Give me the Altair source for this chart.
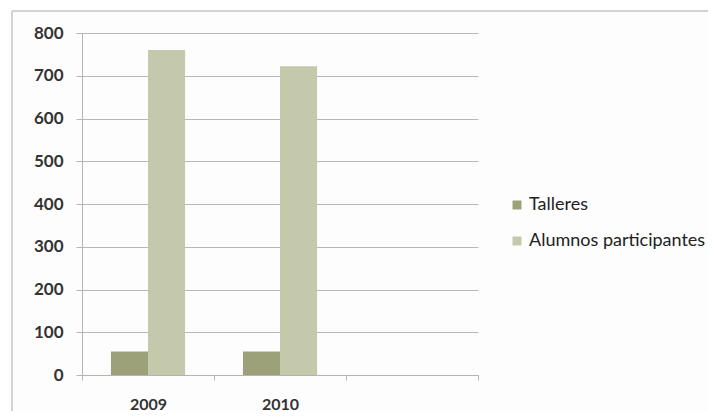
import altair as alt
import pandas as pd

years = ["2009", "2010", " "]
series = ["Talleres", "Alumnos participantes"]
talleres = [55, 55]
alumnos = [760, 722]
colors = ["#9ca17a", "#c3c9aa"]

rows = []
for i, y in enumerate(years[:2]):
    rows.append({"year": y, "serie": series[0], "value": talleres[i]})
    rows.append({"year": y, "serie": series[1], "value": alumnos[i]})
df = pd.DataFrame(rows)

FONT = "Lato"
W, H = 396, 342

bars = alt.Chart(df).mark_bar().encode(
    x=alt.X("year:N", scale=alt.Scale(domain=years, paddingInner=0, paddingOuter=0),
            axis=alt.Axis(title=None, labelAngle=0, tickBand="extent", tickSize=5,
                          labelPadding=16, domainColor="#b4b4b4", tickColor="#b4b4b4",
                          labelFont=FONT, labelFontSize=16, labelFontWeight="bold",
                          labelColor="#333333", grid=False)),
    xOffset=alt.XOffset("serie:N", sort=series,
                        scale=alt.Scale(domain=series, paddingInner=0, paddingOuter=0.78)),
    y=alt.Y("value:Q", scale=alt.Scale(domain=[0, 800], nice=False),
            axis=alt.Axis(title=None, values=list(range(0, 801, 100)), tickSize=6,
                          labelPadding=13, domainColor="#b4b4b4", tickColor="#b4b4b4",
                          gridColor="#b8b8b8", gridWidth=1.2,
                          labelFont=FONT, labelFontSize=17, labelFontWeight="bold",
                          labelColor="#333333")),
    color=alt.Color("serie:N", sort=series,
                    scale=alt.Scale(domain=series, range=colors),
                    legend=alt.Legend(title=None, orient="none", legendX=426, legendY=163,
                                      symbolType="square", symbolSize=80,
                                      symbolStrokeWidth=0, rowPadding=18,
                                      labelFont=FONT, labelFontSize=18, labelLimit=400,
                                      labelColor="#222222", labelOffset=3)),
)

frame_top = alt.Chart(pd.DataFrame({"a": [0]})).mark_rule(
    color="#c4c4c4", strokeWidth=1.5, clip=False
).encode(x=alt.value(-70), x2=alt.value(700), y=alt.value(-22))
frame_left = alt.Chart(pd.DataFrame({"a": [0]})).mark_rule(
    color="#c4c4c4", strokeWidth=1.5, clip=False
).encode(x=alt.value(-70), y=alt.value(-22), y2=alt.value(500))

chart = alt.layer(frame_top, frame_left, bars).properties(
    width=W, height=H,
    autosize=alt.AutoSizeParams(type="none"),
    padding={"left": 74, "top": 25, "right": 230, "bottom": 36},
    background="#fdfdfd",
).configure_view(stroke=None)

chart.save("out.html", embed_options={"renderer": "svg", "actions": False})
